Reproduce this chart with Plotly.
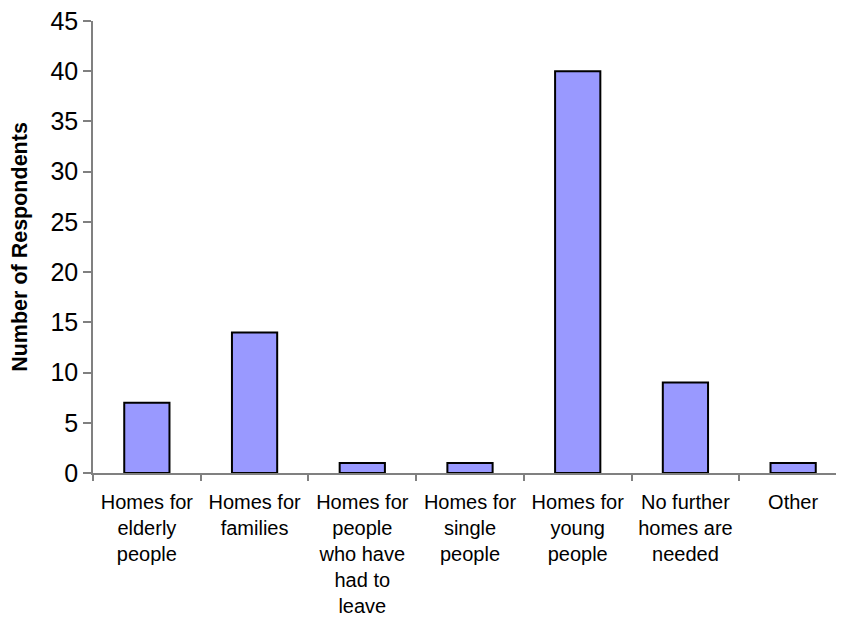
import plotly.graph_objects as go

categories = [
    "Homes for<br>elderly<br>people",
    "Homes for<br>families",
    "Homes for<br>people<br>who have<br>had to<br>leave",
    "Homes for<br>single<br>people",
    "Homes for<br>young<br>people",
    "No further<br>homes are<br>needed",
    "Other",
]
respondents = [7, 14, 1, 1, 40, 9, 1]
y_ticks = [0, 5, 10, 15, 20, 25, 30, 35, 40, 45]

fig = go.Figure(
    go.Bar(
        x=categories,
        y=respondents,
        width=0.42,
        marker=dict(color="#9999FF", line=dict(color="#000000", width=2)),
    )
)

fig.update_layout(
    width=844,
    height=630,
    margin=dict(l=85, r=5, t=13, b=165),
    paper_bgcolor="white",
    plot_bgcolor="white",
    font=dict(family="Liberation Sans, Arial, sans-serif", color="#000000"),
    showlegend=False,
)

fig.update_xaxes(
    type="category",
    range=[-0.5, 6.5],
    automargin=False,
    showline=True,
    linecolor="#808080",
    linewidth=1.5,
    ticks="outside",
    tickson="boundaries",
    ticklen=6,
    tickcolor="#808080",
    tickwidth=1.5,
    tickfont=dict(size=20),
    ticklabelstandoff=10,
    ticklabeloverflow="allow",
    tickangle=0,
    showgrid=False,
    zeroline=False,
)

fig.update_yaxes(
    range=[0, 45],
    tickvals=y_ticks,
    automargin=False,
    showline=True,
    linecolor="#808080",
    linewidth=1.5,
    ticks="outside",
    ticklen=8,
    tickcolor="#808080",
    tickwidth=1.5,
    tickfont=dict(size=25),
    ticklabeloverflow="allow",
    showgrid=False,
    zeroline=False,
    title=dict(text="<b>Number of Respondents</b>", font=dict(size=21.5), standoff=19),
)

fig.write_html("out.html")
